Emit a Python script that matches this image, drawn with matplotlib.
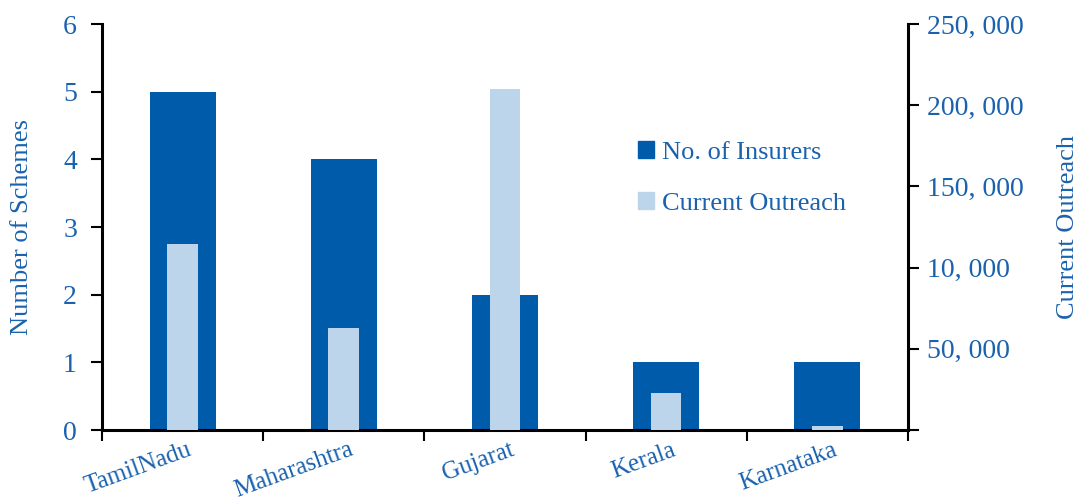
import matplotlib
matplotlib.use("Agg")
import matplotlib.pyplot as plt
from matplotlib.patches import Patch
import numpy as np

states = ["TamilNadu", "Maharashtra", "Gujarat", "Kerala", "Karnataka"]
num_insurers = [5, 4, 2, 1, 1]
current_outreach = [114500, 62800, 210000, 22800, 2500]
left_ticks = [0, 1, 2, 3, 4, 5, 6]
right_ticks = [50000, 100000, 150000, 200000, 250000]
right_tick_labels = ["50, 000", "10, 000", "150, 000", "200, 000", "250, 000"]

dark = "#005BAA"
light = "#BDD5EA"
txt = "#1A62AE"

plt.rcParams['font.family'] = ['Liberation Serif', 'DejaVu Serif']

fig = plt.figure(figsize=(10.87, 5.01), dpi=100)
ax = fig.add_axes([0.0938, 0.1417, 0.7415, 0.8103])
ax2 = ax.twinx()

x = np.arange(len(states))
ax.bar(x, num_insurers, width=0.41, color=dark, zorder=2)
ax2.bar(x, current_outreach, width=0.19, color=light, zorder=3)

ax.set_xlim(-0.5, len(states) - 0.5)
ax.set_ylim(0, 6)
ax2.set_ylim(0, 250000)

ax.set_yticks(left_ticks)
ax.set_yticklabels([str(t) for t in left_ticks])
ax2.set_yticks([0] + right_ticks)
ax2.set_yticklabels([""] + right_tick_labels)

ax.set_xticks(np.arange(len(states) + 1) - 0.5)
ax.set_xticklabels([])
ax.tick_params(axis='x', direction='out', length=8, width=1.5, color='black')
ax.tick_params(axis='y', direction='out', length=8, width=1.5, colors=txt, labelsize=20, pad=10)
ax.tick_params(axis='y', color='black')
ax2.tick_params(axis='y', direction='out', length=8, width=1.5, colors=txt, labelsize=20, pad=6)
ax2.tick_params(axis='y', color='black')

for t_ax in (ax, ax2):
    for s in t_ax.spines.values():
        s.set_visible(False)
ax.spines['left'].set_visible(True)
ax.spines['bottom'].set_visible(True)
ax2.spines['right'].set_visible(True)
for s in (ax.spines['left'], ax.spines['bottom'], ax2.spines['right']):
    s.set_linewidth(2.2)
    s.set_color('black')

for i, name in enumerate(states):
    ax.text(i + 0.03, -0.13, name, rotation=20, ha='right', va='top',
            rotation_mode='anchor', fontsize=18, color=txt,
            transform=ax.transData)

ax.set_ylabel("Number of Schemes", fontsize=19, color=txt)
ax.yaxis.set_label_coords(-0.085, 0.5)
ax2.set_ylabel("Current Outreach", fontsize=19, color=txt, labelpad=24)

handles = [Patch(color=dark, label="No. of Insurers"),
           Patch(color=light, label="Current Outreach")]
leg = fig.legend(handles=handles, loc='upper left', bbox_to_anchor=(0.565, 0.765),
                 frameon=False, fontsize=19, handlelength=0.6, handleheight=0.6,
                 handletextpad=0.3, labelspacing=1.05)
for t in leg.get_texts():
    t.set_color(txt)

fig.savefig("out.png", dpi=100)
